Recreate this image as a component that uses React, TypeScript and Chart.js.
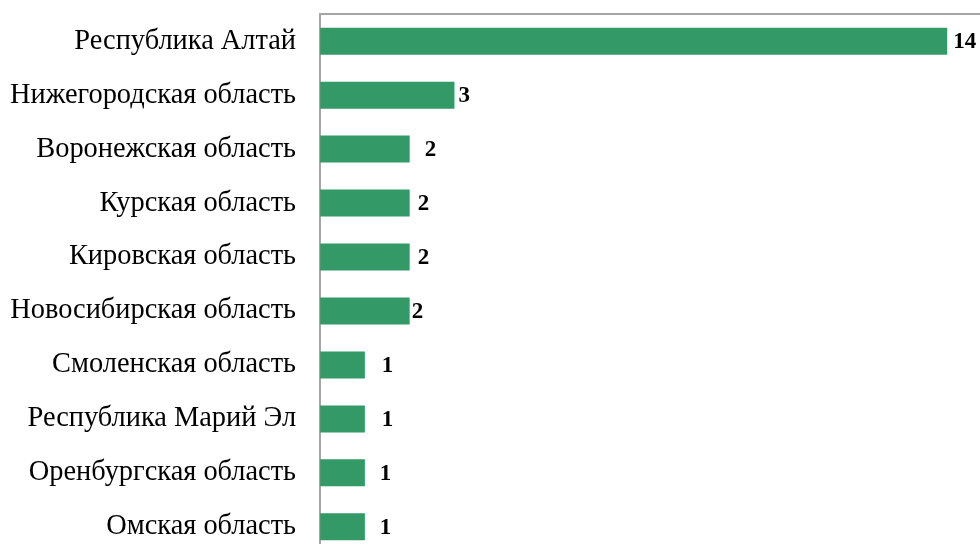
import React, { useEffect, useRef } from "react";
import { Chart, registerables } from "chart.js";

Chart.register(...registerables);

const categories = [
  "Республика Алтай",
  "Нижегородская область",
  "Воронежская область",
  "Курская область",
  "Кировская область",
  "Новосибирская область",
  "Смоленская область",
  "Республика Марий Эл",
  "Оренбургская область",
  "Омская область",
];
const values = [14, 3, 2, 2, 2, 2, 1, 1, 1, 1];
const labelOffsets = [6, 4, 15, 8, 8, 2, 17, 17, 15, 15];

const valueLabels = {
  id: "valueLabels",
  afterDatasetsDraw(chart: any) {
    const ctx = chart.ctx;
    const meta = chart.getDatasetMeta(0);
    ctx.save();
    ctx.font = "bold 23px 'Liberation Serif', 'Times New Roman', serif";
    ctx.fillStyle = "#000";
    ctx.textAlign = "left";
    ctx.textBaseline = "middle";
    meta.data.forEach((bar: any, i: number) => {
      ctx.fillText(String(values[i]), bar.x + labelOffsets[i], bar.y + 1);
    });
    ctx.restore();
  },
};

export default function App() {
  const ref = useRef<HTMLCanvasElement>(null);
  useEffect(() => {
    if (!ref.current) return;
    const chart = new Chart(ref.current, {
      type: "bar",
      data: {
        labels: categories,
        datasets: [
          {
            data: values,
            backgroundColor: "#339966",
            borderWidth: 0,
            categoryPercentage: 1,
            barPercentage: 0.5,
          },
        ],
      },
      options: {
        indexAxis: "y",
        responsive: false,
        animation: false,
        layout: { padding: { top: 10, left: 10, right: 0, bottom: 0 } },
        plugins: { legend: { display: false }, tooltip: { enabled: false } },
        scales: {
          x: {
            position: "top",
            min: 0,
            max: 15,
            grid: { display: false, drawTicks: false },
            ticks: { display: false },
            border: { display: true, color: "#a6a6a6", width: 2 },
          },
          y: {
            grid: {
              display: true,
              drawOnChartArea: false,
              drawTicks: true,
              tickLength: 24,
              color: "rgba(0,0,0,0)",
            },
            ticks: {
              color: "#000",
              padding: 0,
              font: { family: "'Liberation Serif', 'Times New Roman', serif", size: 28.4, lineHeight: 1.0 },
            },
            border: { display: true, color: "#a6a6a6", width: 2 },
          },
        },
      },
      plugins: [valueLabels],
    });
    return () => chart.destroy();
  }, []);
  return (
    <div style={{ position: "absolute", left: 0, top: 0, width: 980, height: 544, overflow: "hidden", background: "#fff" }}>
      <canvas ref={ref} width={992} height={568} style={{ display: "block" }} />
    </div>
  );
}
